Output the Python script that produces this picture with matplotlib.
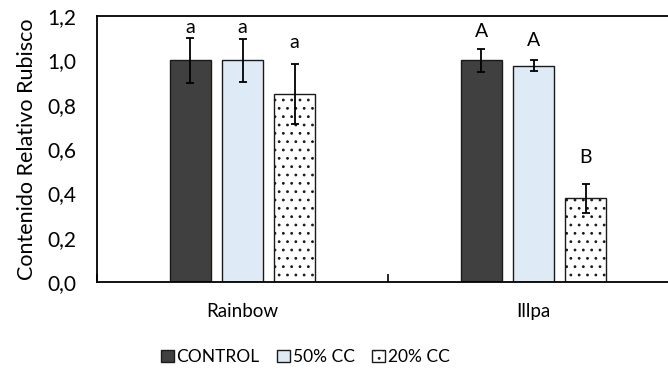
import numpy as np
import matplotlib
matplotlib.use("Agg")
import matplotlib.pyplot as plt
from matplotlib.patches import Patch

plt.rcParams['font.family'] = ['Lato', 'DejaVu Sans']
plt.rcParams['hatch.linewidth'] = 0.8

# datos: contenido relativo de Rubisco por variedad y tratamiento
variedades = ["Rainbow", "Illpa"]
tratamientos = ["CONTROL", "50% CC", "20% CC"]
medias = {
    "CONTROL": [1.00, 1.00],
    "50% CC": [1.00, 0.976],
    "20% CC": [0.848, 0.377],
}
errores = {
    "CONTROL": [0.10, 0.052],
    "50% CC": [0.098, 0.026],
    "20% CC": [0.135, 0.066],
}
letras = {
    "CONTROL": ["a", "A"],
    "50% CC": ["a", "A"],
    "20% CC": ["a", "B"],
}
# altura a la que va cada letra (colocadas a mano)
altura_letras = {
    "CONTROL": [1.15, 1.13],
    "50% CC": [1.15, 1.09],
    "20% CC": [1.08, 0.56],
}
y_ticks = [0.0, 0.2, 0.4, 0.6, 0.8, 1.0, 1.2]

estilos = {
    "CONTROL": dict(color="#404040", hatch=None),
    "50% CC": dict(color="#DEEBF7", hatch=None),
    "20% CC": dict(color="white", hatch=".."),
}

fig = plt.figure(figsize=(6.68, 3.83), dpi=100)
ax = fig.add_axes([0.1452, 0.2637, 0.8713, 0.6945])

x = np.arange(len(variedades))
ancho = 0.141
paso = 0.179

for i, t in enumerate(tratamientos):
    pos = x + (i - 1) * paso
    ax.bar(pos, medias[t], ancho, color=estilos[t]["color"], hatch=estilos[t]["hatch"],
           edgecolor="#1a1a1a", linewidth=1.0, zorder=2)
    ax.errorbar(pos, medias[t], yerr=errores[t], fmt="none", ecolor="black",
                elinewidth=1.3, capsize=3.0, capthick=1.3, zorder=3)
    for xp, letra, h in zip(pos, letras[t], altura_letras[t]):
        ax.text(xp, h, letra, ha="center", va="center", fontsize=14)

ax.set_xlim(-0.5, 1.5)
ax.set_ylim(0, 1.2)
ax.set_yticks(y_ticks)
ax.set_yticklabels([f"{v:.1f}".replace(".", ",") for v in y_ticks], fontsize=15)
ax.tick_params(axis="y", length=0, pad=15)
ax.set_xticks(x)
ax.set_xticklabels(variedades, fontsize=13.5)
ax.tick_params(axis="x", which="major", length=0, pad=15)
ax.set_xticks([-0.5, 0.5, 1.5], minor=True)
ax.tick_params(axis="x", which="minor", direction="in", length=6, width=1.2)
ax.set_ylabel("Contenido Relativo Rubisco", fontsize=15.5, labelpad=7)

for s in ax.spines.values():
    s.set_linewidth(1.3)
    s.set_color("black")

handles = [Patch(facecolor=estilos[t]["color"], hatch=estilos[t]["hatch"],
                 edgecolor="#1a1a1a", linewidth=1.0) for t in tratamientos]
fig.legend(handles, tratamientos, loc="center", bbox_to_anchor=(0.457, 0.068),
           ncol=3, frameon=False, fontsize=12.5, handlelength=0.75, handleheight=0.75,
           handletextpad=0.15, columnspacing=1.0)

fig.savefig("out.png", dpi=100)
